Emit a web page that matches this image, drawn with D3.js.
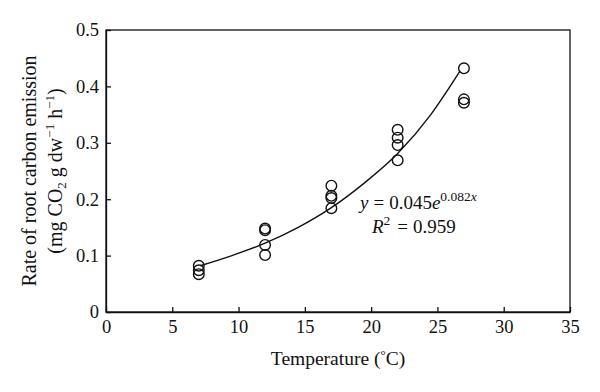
<!DOCTYPE html>
<html><head><meta charset="utf-8">
<script src="https://cdn.jsdelivr.net/npm/d3@7"></script>
<style>body{margin:0;background:#fff}svg{display:block}text{font-family:"Liberation Serif","DejaVu Serif",serif;fill:#111}</style>
</head><body><svg id="c" width="600" height="392"></svg>
<script>
const temps = [7,7,7, 12,12,12,12, 17,17,17,17, 22,22,22,22, 27,27,27];
const rates = [0.082,0.074,0.067, 0.148,0.145,0.119,0.101, 0.224,0.206,0.202,0.184, 0.323,0.309,0.296,0.269, 0.432,0.377,0.371];
const curveX = [7.1,9.5,12,14.5,17,19.5,22,24.5,26.7];
const curveY = [0.082,0.100,0.122,0.150,0.185,0.229,0.281,0.350,0.427];
const xTicks = [0,5,10,15,20,25,30,35];
const yTicks = [0,0.1,0.2,0.3,0.4,0.5];

const svg = d3.select("#c");
const L=106, R=570, T=30, B=312;
const x = d3.scaleLinear().domain([0,35]).range([L,R]);
const y = d3.scaleLinear().domain([0,0.5]).range([B,T]);
const fs = 18.5;

// frame
svg.append("rect").attr("x",L).attr("y",T).attr("width",R-L).attr("height",B-T)
  .attr("fill","none").attr("stroke","#111").attr("stroke-width",1.3);

// axes with inward ticks
const gx = svg.append("g").attr("transform",`translate(0,${B})`)
  .call(d3.axisBottom(x).tickValues(xTicks).tickSizeInner(-5).tickSizeOuter(0).tickPadding(8).tickFormat(d3.format("d")));
const gy = svg.append("g").attr("transform",`translate(${L},0)`)
  .call(d3.axisLeft(y).tickValues(yTicks).tickSizeInner(-5).tickSizeOuter(0).tickPadding(7).tickFormat(d=>d===0?"0":d3.format(".1f")(d)));
[gx,gy].forEach(g=>{
  g.select(".domain").attr("stroke","#111").attr("stroke-width",1.3);
  g.selectAll(".tick line").attr("stroke","#111").attr("stroke-width",1.3);
  g.selectAll(".tick text").attr("font-family","Liberation Serif").attr("font-size",fs).attr("fill","#111");
});

// fitted curve
svg.append("path").datum(curveX.map((v,i)=>[v,curveY[i]]))
  .attr("d",d3.line().x(d=>x(d[0])).y(d=>y(d[1])).curve(d3.curveMonotoneX))
  .attr("fill","none").attr("stroke","#111").attr("stroke-width",1.4);

// points
svg.append("g").selectAll("circle").data(temps.map((t,i)=>[t,rates[i]])).join("circle")
  .attr("cx",d=>x(d[0])).attr("cy",d=>y(d[1])).attr("r",5.3)
  .attr("fill","none").attr("stroke","#111").attr("stroke-width",1.4);

// x title
const xt = svg.append("text").attr("x",(L+R)/2).attr("y",365).attr("text-anchor","middle").attr("font-size",19.5);
xt.append("tspan").text("Temperature (");
xt.append("tspan").attr("font-size",13).attr("dy",-6).text("°");
xt.append("tspan").attr("dy",6).text("C)");

// y title
const yt = svg.append("text").attr("transform",`translate(36,${(T+B)/2}) rotate(-90)`).attr("text-anchor","middle").attr("font-size",20);
yt.append("tspan").attr("x",0).attr("dy",0).text("Rate of root carbon emission");
const yt2 = svg.append("text").attr("transform",`translate(62,${(T+B)/2}) rotate(-90)`).attr("text-anchor","middle").attr("font-size",20);
yt2.append("tspan").text("(mg CO");
yt2.append("tspan").attr("font-size",13).attr("dy",4).text("2");
yt2.append("tspan").attr("dy",-4).text(" g dw");
yt2.append("tspan").attr("font-size",13).attr("dy",-8).text("−1");
yt2.append("tspan").attr("dy",8).text(" h");
yt2.append("tspan").attr("font-size",13).attr("dy",-8).text("−1");
yt2.append("tspan").attr("dy",8).text(")");

// equation
const eq = svg.append("text").attr("x",360).attr("y",209).attr("font-size",19);
eq.append("tspan").attr("font-style","italic").text("y");
eq.append("tspan").attr("dx",5).text("=");
eq.append("tspan").attr("dx",5).text("0.045");
eq.append("tspan").attr("font-style","italic").text("e");
eq.append("tspan").attr("font-size",13.5).attr("dy",-8).text("0.082");
eq.append("tspan").attr("font-size",13.5).attr("font-style","italic").text("x");
const r2 = svg.append("text").attr("x",372).attr("y",233).attr("font-size",19);
r2.append("tspan").attr("font-style","italic").text("R");
r2.append("tspan").attr("font-size",13.5).attr("dy",-8).text("2");
r2.append("tspan").attr("dy",8).attr("dx",7).text("=");
r2.append("tspan").attr("dx",5).text("0.959");
</script></body></html>
